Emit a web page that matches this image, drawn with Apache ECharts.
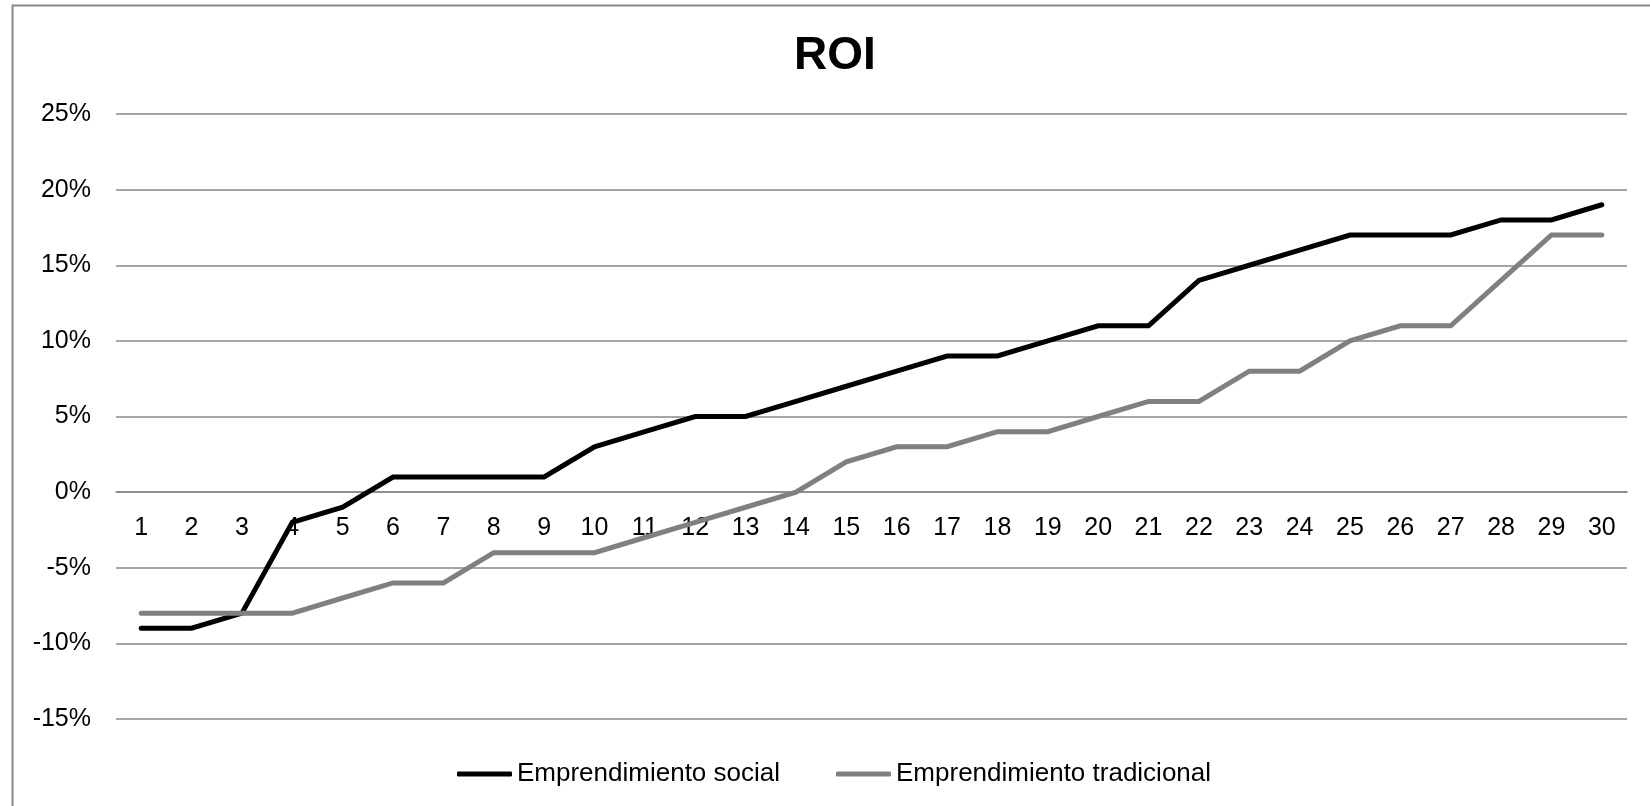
<!DOCTYPE html>
<html>
<head>
<meta charset="utf-8">
<script src="https://cdn.jsdelivr.net/npm/echarts@6/dist/echarts.min.js"></script>
<style>html,body{margin:0;padding:0;background:#fff;}#c{width:1650px;height:806px;}</style>
</head>
<body>
<div id="c"></div>
<script>
var categories = ['1','2','3','4','5','6','7','8','9','10','11','12','13','14','15','16','17','18','19','20','21','22','23','24','25','26','27','28','29','30'];
var social = [-9,-9,-8,-2,-1,1,1,1,1,3,4,5,5,6,7,8,9,9,10,11,11,14,15,16,17,17,17,18,18,19];
var tradicional = [-8,-8,-8,-8,-7,-6,-6,-4,-4,-4,-3,-2,-1,0,2,3,3,4,4,5,6,6,8,8,10,11,11,14,17,17];
var yTicks = {min: -15, max: 25, interval: 5};
var seriesNames = ['Emprendimiento social', 'Emprendimiento tradicional'];

var FONT = 'Liberation Sans, Arial, sans-serif';
var chart = echarts.init(document.getElementById('c'), null, {renderer: 'canvas'});
chart.setOption({
  animation: false,
  backgroundColor: '#fff',
  graphic: [{
    type: 'rect', silent: true, z: -10,
    shape: {x: 12.5, y: 5.5, width: 2000, height: 2000},
    style: {fill: 'none', stroke: '#888888', lineWidth: 2}
  }],
  title: {
    text: 'ROI', left: 789, top: 28,
    textStyle: {fontFamily: FONT, fontSize: 46, fontWeight: 'bold', color: '#000'}
  },
  legend: {
    left: 452, top: 756,
    itemWidth: 55, itemHeight: 5, itemGap: 56,
    icon: 'roundRect',
    textStyle: {fontFamily: FONT, fontSize: 26, color: '#000'},
    data: seriesNames
  },
  grid: {left: 116, right: 23, top: 114, bottom: 87, containLabel: false},
  xAxis: {
    type: 'category', data: categories, boundaryGap: true,
    axisLine: {show: true, onZero: true, onZeroAxisIndex: 0, lineStyle: {color: '#878787', width: 1.5}},
    axisTick: {show: false},
    axisLabel: {fontFamily: FONT, fontSize: 25, color: '#000', margin: 23, interval: 0},
    splitLine: {show: false}
  },
  yAxis: {
    type: 'value', min: yTicks.min, max: yTicks.max, interval: yTicks.interval,
    axisLine: {show: false}, axisTick: {show: false},
    axisLabel: {fontFamily: FONT, fontSize: 25, color: '#000', margin: 25, formatter: '{value}%'},
    splitLine: {show: true, lineStyle: {color: '#878787', width: 1.5}}
  },
  series: [
    {name: seriesNames[0], type: 'line', data: social, symbol: 'none', showSymbol: false,
     itemStyle: {color: '#000000'},
     lineStyle: {color: '#000000', width: 5, cap: 'round', join: 'miter'}},
    {name: seriesNames[1], type: 'line', data: tradicional, symbol: 'none', showSymbol: false,
     itemStyle: {color: '#808080'},
     lineStyle: {color: '#808080', width: 5, cap: 'round', join: 'miter'}}
  ]
});
// Place the category axis at the value axis zero, using the library's own scale.
var zeroY = chart.convertToPixel({yAxisIndex: 0}, 0);
var bottomY = chart.convertToPixel({yAxisIndex: 0}, yTicks.min);
chart.setOption({xAxis: {offset: -(bottomY - zeroY), axisLine: {onZero: false}}});
</script>
</body>
</html>
